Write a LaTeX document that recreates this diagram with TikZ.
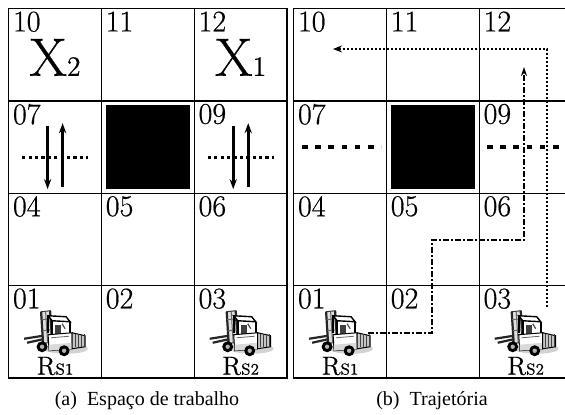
\documentclass[tikz,border=0pt]{standalone}
\usepackage{fontspec}
\newfontfamily\capfont{Liberation Serif}
\newfontfamily\gridfont{Latin Modern Roman}[FakeBold=0.6]
\usetikzlibrary{arrows.meta}
\tikzset{
  cell/.style={draw, line width=0.7pt, anchor=north west, minimum width=46.4pt, minimum height=46.15pt, inner sep=0pt},
  num/.style={anchor=north west, inner sep=0pt, font=\gridfont\fontsize{15}{15}\selectfont},
  block/.style={fill=black, minimum size=42pt, inner sep=0pt},
  xlab/.style={anchor=base, inner sep=0pt, font=\gridfont\fontsize{27}{27}\selectfont},
  rlab/.style={anchor=base, inner sep=0pt, font=\gridfont\fontsize{13}{13}\selectfont},
  way/.style={line width=1.5pt, -{Stealth[length=5pt, width=3.6pt]}},
  cross/.style={line width=1.6pt, dash pattern=on 1.6pt off 1.6pt},
  wall/.style={line width=2.2pt, dash pattern=on 2.8pt off 3.8pt},
  route/.style={line width=1pt, dash pattern=on 1pt off 1pt, -{Stealth[length=4.5pt, width=3.5pt]}},
  routeb/.style={line width=1pt, dash pattern=on 3pt off 1pt on 1pt off 1pt, -{Stealth[length=4.5pt, width=3pt]}},
  forklift/.pic={
    \begin{scope}[shift={(-31,-21)}]
      \fill[gray!35] (42,38) ellipse (22 and 5);
      % forks and mast
      \draw[black!85, line width=1.1pt] (0,28) -- (19,25) (3,32) -- (21,28);
      \filldraw[fill=gray!25, draw=black!80, line width=0.5pt] (17,1) -- (26,0) -- (28,31) -- (19,33) -- cycle;
      \draw[black!85, line width=1.1pt] (17,1) -- (19,33) (26,0) -- (28,31);
      \draw[black!60, line width=0.5pt] (21.5,1) -- (23.5,32) (17.5,9) -- (26.5,8) (18.3,20) -- (27.3,19);
      % overhead guard and seat
      \draw[line width=0.7pt, fill=white] (24,5) -- (42,6) -- (46,11) -- (28,10) -- cycle;
      \draw[line width=0.9pt] (28,10) -- (28,24) (46,11) -- (46,22) (24,5) -- (24,22);
      \fill[black!75] (31,14) -- (37,14) -- (37,24) -- (31,24) -- cycle;
      \draw[black!70, line width=0.6pt] (38,13) -- (41,18);
      % body
      \filldraw[fill=white, line width=0.5pt] (24,24) -- (48,22) -- (48,38) -- (25,40) -- cycle;
      \fill[gray!30] (25,34) -- (48,32) -- (48,38) -- (25,40) -- cycle;
      \draw[black!60, line width=0.4pt] (27,27) -- (45,25.5);
      \filldraw[fill=gray!45, line width=0.5pt] (48,22) -- (61,25) -- (61,36) -- (48,38) -- cycle;
      \foreach \k in {51,54,57,60} \draw[black!75, line width=0.5pt] (\k,23.5) -- (\k,36.5);
      \foreach \wx/\wy in {18/36,40/40} {
        \fill[black] (\wx,\wy) circle (5.5);
        \fill[gray!60] (\wx,\wy) circle (2.2);
      }
    \end{scope}
  }
}
\begin{document}
\begin{tikzpicture}[x=0.5pt, y=-0.5pt]
\useasboundingbox (0,0) rectangle (565,415);
\clip (0,0) rectangle (565,415);

% both grids
\foreach \g/\ox in {a/8, b/293} {
  \foreach \n/\i/\j in {10/0/0,11/1/0,12/2/0,07/0/1,08/1/1,09/2/1,04/0/2,05/1/2,06/2/2,01/0/3,02/1/3,03/2/3}
    \node[cell] (\g\n) at ({\ox+\i*92.8},{8+\j*92.3}) {};
  \foreach \n in {10,11,12,07,09,04,05,06,01,02,03}
    \node[num] (\g\n t) at ([xshift=2.3pt, yshift=-1.6pt]\g\n.north west) {\n};
  \node[block] (\g08b) at (\g08.center) {};
  \pic (\g01f) at (\g01.center) {forklift};
  \pic (\g03f) at (\g03.center) {forklift};
  \node[rlab] (\g01r) at ([yshift=2pt]\g01.south) {R{\fontsize{8}{8}\selectfont S1}};
  \node[rlab] (\g03r) at ([yshift=2pt]\g03.south) {R{\fontsize{8}{8}\selectfont S2}};
}

% workspace
\node[xlab] (x2) at ([yshift=-10.5pt]a10.center) {X{\fontsize{14}{14}\selectfont 2}};
\node[xlab] (x1) at ([yshift=-10.5pt]a12.center) {X{\fontsize{14}{14}\selectfont 1}};
\foreach \c in {a07,a09} {
  \begin{scope}[shift={(\c.center)}]
    \draw[cross] (-33,10) -- (33,10);
    \draw[way] (-7.5,-21) -- (-7.5,42);
    \draw[way] (7.5,40) -- (7.5,-24);
  \end{scope}
}

% trajectory
\draw[wall] ([xshift=4.5pt]b07.west) -- ([xshift=-3pt]b07.east);
\draw[wall] ([xshift=4.2pt]b09.west) -- (b09.east);
\path
(547,307) coordinate (s2)
(333,49) coordinate (g2)
(368,333) coordinate (s1)
(432,240) coordinate (m1)
(524,67) coordinate (g1)
;
\draw[route] (s2) |- (g2);
\draw[routeb] (s1) -| (m1) -| (g1);

\node[anchor=base, font={\capfont\fontsize{10}{12}\selectfont}] (capa) at (147,405) {(a)\enspace Espaço de trabalho};
\node[anchor=base, font={\capfont\fontsize{10}{12}\selectfont}] (capb) at (432,405) {(b)\enspace Trajetória};
\end{tikzpicture}
\end{document}
